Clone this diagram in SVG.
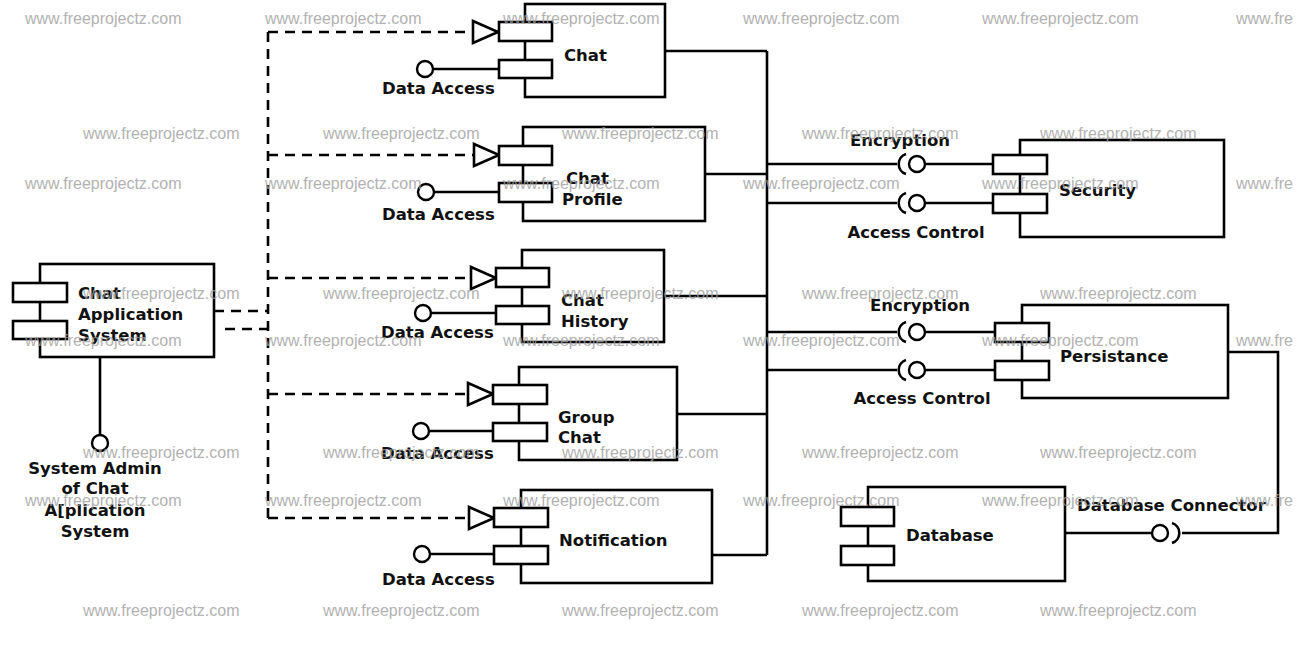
<svg xmlns="http://www.w3.org/2000/svg" width="1302" height="649" viewBox="0 0 1302 649">
<style>
.box{fill:#fff;stroke:#000;stroke-width:2.6}
.tab{fill:#fff;stroke:#000;stroke-width:2.6}
.ln{fill:none;stroke:#000;stroke-width:2.6}
.dash{fill:none;stroke:#000;stroke-width:2.6;stroke-dasharray:10 7}
.ball{fill:#fff;stroke:#000;stroke-width:2.4}
.lbl{font-family:"DejaVu Sans",sans-serif;font-weight:bold;font-size:16.5px;fill:#111}
.mid{text-anchor:middle}
.wm{font-family:"Liberation Sans",Arial,sans-serif;font-size:16px;fill:#a0a0a0;opacity:.8}
</style>
<defs>
<marker id="tri" markerUnits="userSpaceOnUse" markerWidth="30" markerHeight="28" viewBox="-2 -14 30 28" refX="25" refY="0" orient="auto" style="overflow:visible">
<path d="M0,-11 L25,0 L0,11 Z" fill="#fff" stroke="#000" stroke-width="2.6" stroke-dasharray="none"/>
</marker>
</defs>
<rect x="0" y="0" width="1302" height="649" fill="#fff"/>

<g id="connectors">
<path class="dash" d="M268,32 V518"/>
<path class="dash" d="M214,311 H268"/>
<path class="dash" d="M225,329 H268"/>
<path class="dash" d="M268,32 H498" marker-end="url(#tri)"/>
<path class="dash" d="M268,155 H499" marker-end="url(#tri)"/>
<path class="dash" d="M268,278 H496" marker-end="url(#tri)"/>
<path class="dash" d="M268,394 H493" marker-end="url(#tri)"/>
<path class="dash" d="M268,518 H494" marker-end="url(#tri)"/>
<path class="ln" d="M767,51 V555"/>
<path class="ln" d="M665,51 H767"/>
<path class="ln" d="M705,174 H767"/>
<path class="ln" d="M663,296 H767"/>
<path class="ln" d="M677,414 H767"/>
<path class="ln" d="M712,555 H767"/>
<path class="ln" d="M767,164 H897 M926,164 H993"/>
<path class="ln" d="M906,154 A10.5,10.5 0 0,0 906,174"/>
<circle class="ball" cx="917" cy="164" r="8"/>
<path class="ln" d="M767,203 H897 M926,203 H993"/>
<path class="ln" d="M906,193 A10.5,10.5 0 0,0 906,213"/>
<circle class="ball" cx="917" cy="203" r="8"/>
<path class="ln" d="M767,332 H897 M926,332 H995"/>
<path class="ln" d="M906,322 A10.5,10.5 0 0,0 906,342"/>
<circle class="ball" cx="917" cy="332" r="8"/>
<path class="ln" d="M767,370 H897 M926,370 H995"/>
<path class="ln" d="M906,360 A10.5,10.5 0 0,0 906,380"/>
<circle class="ball" cx="917" cy="370" r="8"/>
<path class="ln" d="M1065,533 H1151"/>
<circle class="ball" cx="1160" cy="533" r="8"/>
<path class="ln" d="M1172,523 A10.5,10.5 0 0,1 1172,543"/>
<path class="ln" d="M1182,533 H1278 V352 H1228"/>
<path class="ln" d="M100,357 V435"/>
<circle class="ball" cx="100" cy="443" r="8"/>
</g>

<g id="app">
<rect class="box" x="40" y="264" width="174" height="93"/>
<rect class="tab" x="13" y="283" width="54" height="19"/>
<rect class="tab" x="13" y="321" width="54" height="18"/>
<text class="lbl" x="78" y="299">Chat</text>
<text class="lbl" x="78" y="320">Application</text>
<text class="lbl" x="78" y="341">System</text>
<text class="lbl mid" x="95" y="474">System Admin</text>
<text class="lbl mid" x="95" y="494">of Chat</text>
<text class="lbl mid" x="95" y="516">A[plication</text>
<text class="lbl mid" x="95" y="537">System</text>
</g>

<g id="chat">
<rect class="box" x="525" y="4" width="140" height="93"/>
<rect class="tab" x="499" y="22" width="53" height="19"/>
<rect class="tab" x="499" y="60" width="53" height="18"/>
<path class="ln" d="M433,69 H499"/>
<circle class="ball" cx="425" cy="69" r="8"/>
<text class="lbl" x="382" y="94">Data Access</text>
<text class="lbl" x="564" y="61">Chat</text>
</g>

<g id="chatProfile">
<rect class="box" x="523" y="127" width="182" height="94"/>
<rect class="tab" x="499" y="146" width="53" height="19"/>
<rect class="tab" x="499" y="183" width="53" height="19"/>
<path class="ln" d="M434,192 H499"/>
<circle class="ball" cx="426" cy="192" r="8"/>
<text class="lbl" x="382" y="220">Data Access</text>
<text class="lbl" x="566" y="184">Chat</text>
<text class="lbl" x="562" y="205">Profile</text>
</g>

<g id="chatHistory">
<rect class="box" x="522" y="250" width="142" height="92"/>
<rect class="tab" x="496" y="268" width="53" height="19"/>
<rect class="tab" x="496" y="306" width="53" height="18"/>
<path class="ln" d="M431,313 H496"/>
<circle class="ball" cx="423" cy="313" r="8"/>
<text class="lbl" x="381" y="338">Data Access</text>
<text class="lbl" x="561" y="306">Chat</text>
<text class="lbl" x="561" y="327">History</text>
</g>

<g id="groupChat">
<rect class="box" x="519" y="367" width="158" height="93"/>
<rect class="tab" x="493" y="385" width="54" height="19"/>
<rect class="tab" x="493" y="423" width="54" height="18"/>
<path class="ln" d="M429,431 H493"/>
<circle class="ball" cx="421" cy="431" r="8"/>
<text class="lbl" x="381" y="459">Data Access</text>
<text class="lbl" x="558" y="423">Group</text>
<text class="lbl" x="558" y="443">Chat</text>
</g>

<g id="notification">
<rect class="box" x="521" y="490" width="191" height="93"/>
<rect class="tab" x="494" y="508" width="54" height="19"/>
<rect class="tab" x="494" y="546" width="54" height="18"/>
<path class="ln" d="M430,554 H494"/>
<circle class="ball" cx="422" cy="554" r="8"/>
<text class="lbl" x="382" y="585">Data Access</text>
<text class="lbl" x="559" y="546">Notification</text>
</g>

<g id="security">
<rect class="box" x="1020" y="140" width="204" height="97"/>
<rect class="tab" x="993" y="155" width="54" height="19"/>
<rect class="tab" x="993" y="194" width="54" height="19"/>
<text class="lbl" x="1059" y="196">Security</text>
<text class="lbl mid" x="900" y="146">Encryption</text>
<text class="lbl mid" x="916" y="238">Access Control</text>
</g>

<g id="persistance">
<rect class="box" x="1022" y="305" width="206" height="93"/>
<rect class="tab" x="995" y="323" width="54" height="19"/>
<rect class="tab" x="995" y="361" width="54" height="19"/>
<text class="lbl" x="1060" y="362">Persistance</text>
<text class="lbl mid" x="920" y="311">Encryption</text>
<text class="lbl mid" x="922" y="404">Access Control</text>
</g>

<g id="database">
<rect class="box" x="868" y="487" width="197" height="94"/>
<rect class="tab" x="841" y="507" width="53" height="19"/>
<rect class="tab" x="841" y="546" width="53" height="19"/>
<text class="lbl" x="906" y="541">Database</text>
<text class="lbl" x="1077" y="511">Database Connector</text>
</g>

<g id="watermark" class="wm">
<text x="25" y="24">www.freeprojectz.com</text><text x="265" y="24">www.freeprojectz.com</text><text x="503" y="24">www.freeprojectz.com</text><text x="743" y="24">www.freeprojectz.com</text><text x="982" y="24">www.freeprojectz.com</text><text x="1236" y="24">www.fre</text>
<text x="83" y="139">www.freeprojectz.com</text><text x="323" y="139">www.freeprojectz.com</text><text x="562" y="139">www.freeprojectz.com</text><text x="802" y="139">www.freeprojectz.com</text><text x="1040" y="139">www.freeprojectz.com</text>
<text x="25" y="189">www.freeprojectz.com</text><text x="265" y="189">www.freeprojectz.com</text><text x="503" y="189">www.freeprojectz.com</text><text x="743" y="189">www.freeprojectz.com</text><text x="982" y="189">www.freeprojectz.com</text><text x="1236" y="189">www.fre</text>
<text x="83" y="299">www.freeprojectz.com</text><text x="323" y="299">www.freeprojectz.com</text><text x="562" y="299">www.freeprojectz.com</text><text x="802" y="299">www.freeprojectz.com</text><text x="1040" y="299">www.freeprojectz.com</text>
<text x="25" y="346">www.freeprojectz.com</text><text x="265" y="346">www.freeprojectz.com</text><text x="503" y="346">www.freeprojectz.com</text><text x="743" y="346">www.freeprojectz.com</text><text x="982" y="346">www.freeprojectz.com</text><text x="1236" y="346">www.fre</text>
<text x="83" y="458">www.freeprojectz.com</text><text x="323" y="458">www.freeprojectz.com</text><text x="562" y="458">www.freeprojectz.com</text><text x="802" y="458">www.freeprojectz.com</text><text x="1040" y="458">www.freeprojectz.com</text>
<text x="25" y="506">www.freeprojectz.com</text><text x="265" y="506">www.freeprojectz.com</text><text x="503" y="506">www.freeprojectz.com</text><text x="743" y="506">www.freeprojectz.com</text><text x="982" y="506">www.freeprojectz.com</text><text x="1236" y="506">www.fre</text>
<text x="83" y="616">www.freeprojectz.com</text><text x="323" y="616">www.freeprojectz.com</text><text x="562" y="616">www.freeprojectz.com</text><text x="802" y="616">www.freeprojectz.com</text><text x="1040" y="616">www.freeprojectz.com</text>
</g>
</svg>
